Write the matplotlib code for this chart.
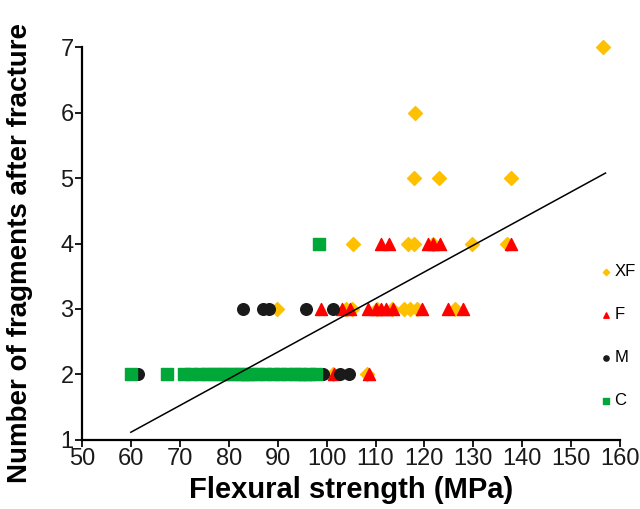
"""Fragments after fracture vs flexural strength"""
import numpy as np
import matplotlib.pyplot as plt

plt.rcParams['font.family'] = ['Liberation Sans', 'DejaVu Sans']

# XF group (yellow diamonds)
xf_strength = [101.3, 108.3,
               89.8, 104.0, 105.2, 110.3, 113.4, 115.8, 117.0, 118.4, 126.3,
               105.4, 116.7, 117.9, 121.8, 129.8, 136.9,
               117.9, 123.0, 137.7,
               118.1,
               156.5]
xf_fragments = [2, 2,
                3, 3, 3, 3, 3, 3, 3, 3, 3,
                4, 4, 4, 4, 4, 4,
                5, 5, 5,
                6,
                7]

# F group (red triangles)
f_strength = [83.7, 95.6, 101.5, 108.6,
              98.9, 103.2, 104.8, 108.5, 110.0, 111.2, 112.2, 113.6, 119.5, 124.8, 127.9,
              111.1, 112.8, 120.8, 121.8, 123.2, 137.7]
f_fragments = [2, 2, 2, 2,
               3, 3, 3, 3, 3, 3, 3, 3, 3, 3, 3,
               4, 4, 4, 4, 4, 4]

# M group (black circles)
m_strength = [61.5, 73.2, 78.2, 79.5, 87.5, 92.8, 94.0, 99.3, 102.8, 104.6,
              83.0, 87.0, 88.2, 95.8, 101.3]
m_fragments = [2, 2, 2, 2, 2, 2, 2, 2, 2, 2,
               3, 3, 3, 3, 3]

# C group (green squares)
c_strength = [60.0, 67.3, 70.8, 72.3, 74.2, 75.5, 76.8, 78.0, 79.3, 80.5, 82.0,
              83.0, 84.5, 86.0, 87.5, 89.0, 90.5, 92.0, 93.5, 94.5, 96.5, 97.8,
              98.5]
c_fragments = [2] * 22 + [4]

# linear trend line
trend_slope = 0.0408
trend_intercept = -1.33
trend_range = [60, 157]

fig = plt.figure(figsize=(6.4, 5.09), dpi=100)
ax = fig.add_axes([0.128, 0.1356, 0.841, 0.772])

ax.scatter(xf_strength, xf_fragments, marker='D', s=50, color='#FFC000', label='XF', zorder=2, clip_on=False)
ax.scatter(f_strength, f_fragments, marker='^', s=75, color='#FF0000', label='F', zorder=3)
ax.scatter(m_strength, m_fragments, marker='o', s=70, color='#1A1A1A', label='M', zorder=4)
ax.scatter(c_strength, c_fragments, marker='s', s=70, color='#00A839', label='C', zorder=5)

tx = np.array(trend_range)
ax.plot(tx, trend_slope * tx + trend_intercept, color='black', linewidth=1.1, zorder=6)

ax.set_xlim(50, 160)
ax.set_ylim(1, 7)
ax.set_xticks(np.arange(50, 161, 10))
ax.set_yticks(np.arange(1, 8, 1))
ax.spines['top'].set_visible(False)
ax.spines['right'].set_visible(False)
ax.spines['left'].set_linewidth(1.6)
ax.spines['bottom'].set_linewidth(1.6)
ax.tick_params(labelsize=17, length=5, width=1.4, pad=1, colors='#1A1A1A')

ax.set_xlabel("Flexural strength (MPa)", fontsize=21, fontweight='bold', labelpad=4)
ax.set_ylabel("Number of fragments after fracture", fontsize=20, fontweight='bold')
ax.yaxis.set_label_coords(-0.09, 0.475)

ax.legend(loc='upper left', bbox_to_anchor=(0.955, 0.465), frameon=False, fontsize=12,
          markerscale=0.45, handlelength=0.4, handletextpad=0.3, labelspacing=1.68,
          borderaxespad=0)

fig.savefig('out.png', dpi=100)
